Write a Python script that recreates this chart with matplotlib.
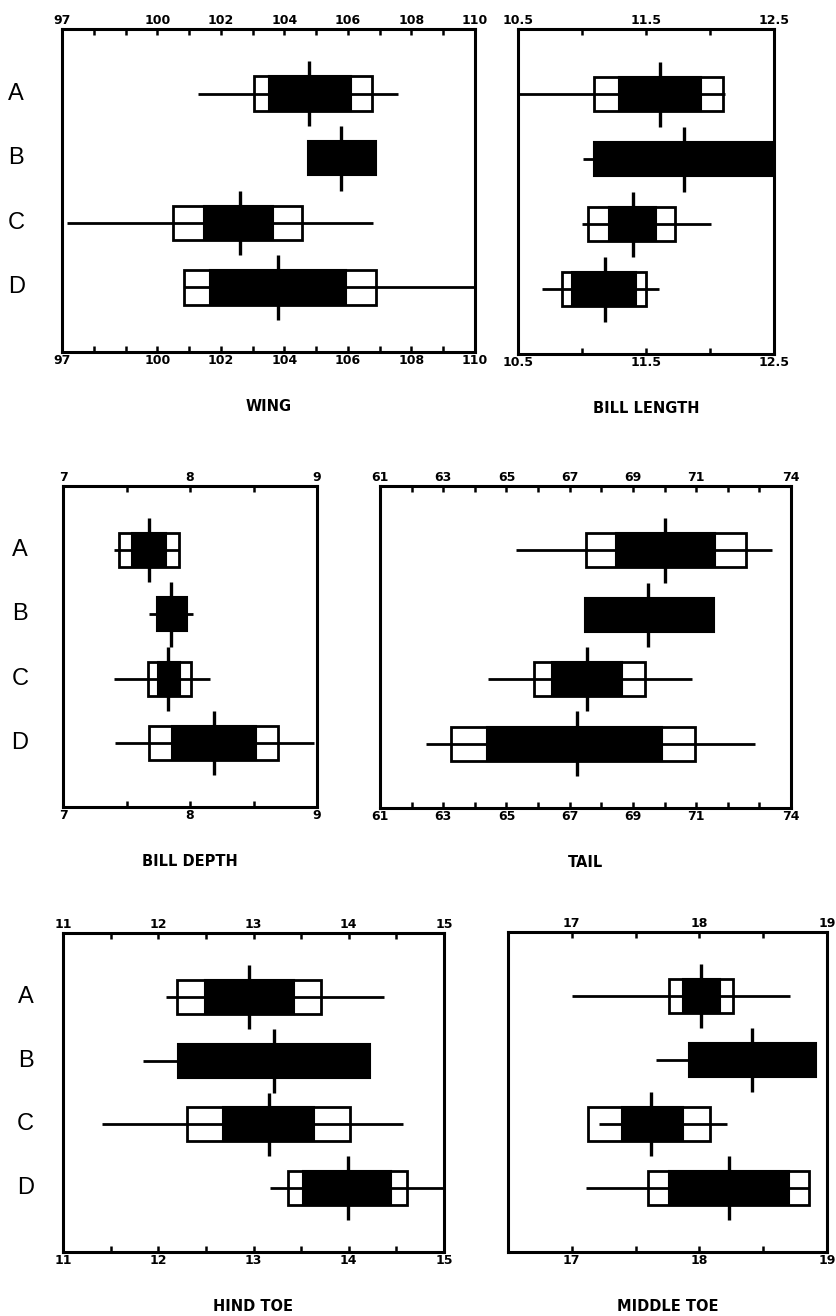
import matplotlib
matplotlib.use("Agg")
import matplotlib.pyplot as plt

groups = ["A", "B", "C", "D"]

# mean, range (min, max), open box (sd), black box (2 se); None = not drawn
wing_mean = [104.77, 105.78, 102.6, 103.8]
wing_range = [(101.28, 107.58), None, (97.16, 106.79), (100.84, 110.0)]
wing_sd = [(103.04, 106.76), None, (100.49, 104.55), (100.84, 106.88)]
wing_se = [(103.52, 106.10), (104.74, 106.88), (101.47, 103.64), (101.66, 105.94)]

bill_len_mean = [11.61, 11.80, 11.40, 11.18]
bill_len_range = [(10.4, 12.12), (11.01, 12.5), (11.0, 12.01), (10.69, 11.60)]
bill_len_sd = [(11.09, 12.10), None, (11.05, 11.73), (10.84, 11.50)]
bill_len_se = [(11.29, 11.93), (11.09, 12.5), (11.21, 11.58), (10.92, 11.42)]

bill_dep_mean = [7.68, 7.85, 7.83, 8.19]
bill_dep_range = [(7.40, 7.91), (7.68, 8.02), (7.40, 8.16), (7.41, 8.98)]
bill_dep_sd = [(7.44, 7.91), None, (7.67, 8.01), (7.68, 8.69)]
bill_dep_se = [(7.54, 7.81), (7.74, 7.98), (7.75, 7.92), (7.86, 8.52)]

tail_mean = [70.0, 69.48, 67.56, 67.22]
tail_range = [(65.29, 73.4), None, (64.42, 70.87), (62.47, 72.85)]
tail_sd = [(67.53, 72.58), None, (65.87, 69.37), (63.26, 70.95)]
tail_se = [(68.47, 71.59), (67.47, 71.57), (66.43, 68.66), (64.4, 69.91)]

hind_mean = [12.95, 13.22, 13.16, 13.99]
hind_range = [(12.08, 14.37), (11.84, 14.22), (11.41, 14.57), (13.17, 15.0)]
hind_sd = [(12.20, 13.71), None, (12.30, 14.01), (13.36, 14.61)]
hind_se = [(12.49, 13.42), (12.21, 14.22), (12.68, 13.63), (13.52, 14.44)]

mid_mean = [18.01, 18.41, 17.62, 18.23]
mid_range = [(17.0, 18.71), (17.66, 18.91), (17.21, 18.22), (17.11, 18.86)]
mid_sd = [(17.76, 18.26), None, (17.13, 18.08), (17.60, 18.86)]
mid_se = [(17.87, 18.16), (17.92, 18.91), (17.39, 17.87), (17.76, 18.70)]

# axis limits, tick positions, tick labels
wing_xlim = (97, 110)
wing_ticks = list(range(97, 111))
wing_labels = ["97", "", "", "100", "", "102", "", "104", "", "106", "", "108", "", "110"]

bill_len_xlim = (10.5, 12.5)
bill_len_ticks = [10.5, 11.0, 11.5, 12.0, 12.5]
bill_len_labels = ["10.5", "", "11.5", "", "12.5"]

bill_dep_xlim = (7, 9)
bill_dep_ticks = [7, 7.5, 8, 8.5, 9]
bill_dep_labels = ["7", "", "8", "", "9"]

tail_xlim = (61, 74)
tail_ticks = list(range(61, 75))
tail_labels = ["61", "", "63", "", "65", "", "67", "", "69", "", "71", "", "", "74"]

hind_xlim = (11, 15)
hind_ticks = [11, 11.5, 12, 12.5, 13, 13.5, 14, 14.5, 15]
hind_labels = ["11", "", "12", "", "13", "", "14", "", "15"]

mid_xlim = (16.5, 19)
mid_ticks = [17, 17.5, 18, 18.5, 19]
mid_labels = ["17", "", "18", "", "19"]

W, H = 837, 1316
fig = plt.figure(figsize=(W / 100, H / 100), dpi=100)


def make_ax(x0, x1, y0, y1):
    # pixel box -> figure fraction
    return fig.add_axes([x0 / W, 1 - y1 / H, (x1 - x0) / W, (y1 - y0) / H])


def panel(ax, mean, rng, sd, se, xlim, ticks, labels, title, rows=False, row_off=-33):
    ys = range(1, len(groups) + 1)
    for y, m, r, s, e in zip(ys, mean, rng, sd, se):
        if s is not None:
            ax.barh(y, s[1] - s[0], left=s[0], height=0.53, color="white",
                    edgecolor="black", linewidth=2, zorder=2)
        if r is not None:
            ax.hlines(y, r[0], r[1], color="black", linewidth=2, zorder=3)
        ax.barh(y, e[1] - e[0], left=e[0], height=0.53, color="black",
                edgecolor="black", linewidth=1.5, zorder=4)
        ax.vlines(m, y - 0.5, y + 0.5, color="black", linewidth=2.4, zorder=5)
    ax.set_xlim(*xlim)
    ax.set_ylim(5, 0)
    ax.set_yticks([])
    ax.set_xticks(ticks)
    ax.set_xticklabels(labels)
    ax.tick_params(axis="x", direction="in", top=True, labeltop=True,
                   length=4.5, width=1.8, pad=1.5, labelsize=9)
    for lab in ax.get_xticklabels():
        lab.set_fontweight("bold")
    for sp in ax.spines.values():
        sp.set_linewidth(2.2)
    if rows:
        for y, g in zip(ys, groups):
            ax.annotate(g, xy=(0, y), xycoords=ax.get_yaxis_transform(),
                        xytext=(row_off, 0), textcoords="offset points",
                        ha="center", va="center", fontsize=17,
                        family="Liberation Sans")
    ax.annotate(title, xy=(0.5, 0), xycoords="axes fraction",
                xytext=(0, -39), textcoords="offset points",
                ha="center", va="center", fontsize=10.5, fontweight="bold")


ax1 = make_ax(62, 475, 29, 352)
panel(ax1, wing_mean, wing_range, wing_sd, wing_se,
      wing_xlim, wing_ticks, wing_labels, "WING", rows=True, row_off=-33)

ax2 = make_ax(518, 774, 29, 354)
panel(ax2, bill_len_mean, bill_len_range, bill_len_sd, bill_len_se,
      bill_len_xlim, bill_len_ticks, bill_len_labels, "BILL LENGTH")

ax3 = make_ax(63, 317, 486, 807)
panel(ax3, bill_dep_mean, bill_dep_range, bill_dep_sd, bill_dep_se,
      bill_dep_xlim, bill_dep_ticks, bill_dep_labels, "BILL DEPTH", rows=True, row_off=-31)

ax4 = make_ax(380, 791, 486, 808)
panel(ax4, tail_mean, tail_range, tail_sd, tail_se,
      tail_xlim, tail_ticks, tail_labels, "TAIL")

ax5 = make_ax(63, 444, 933, 1252)
panel(ax5, hind_mean, hind_range, hind_sd, hind_se,
      hind_xlim, hind_ticks, hind_labels, "HIND TOE", rows=True, row_off=-27)

ax6 = make_ax(508, 827, 932, 1252)
panel(ax6, mid_mean, mid_range, mid_sd, mid_se,
      mid_xlim, mid_ticks, mid_labels, "MIDDLE TOE")

fig.savefig("out.png", dpi=100)
